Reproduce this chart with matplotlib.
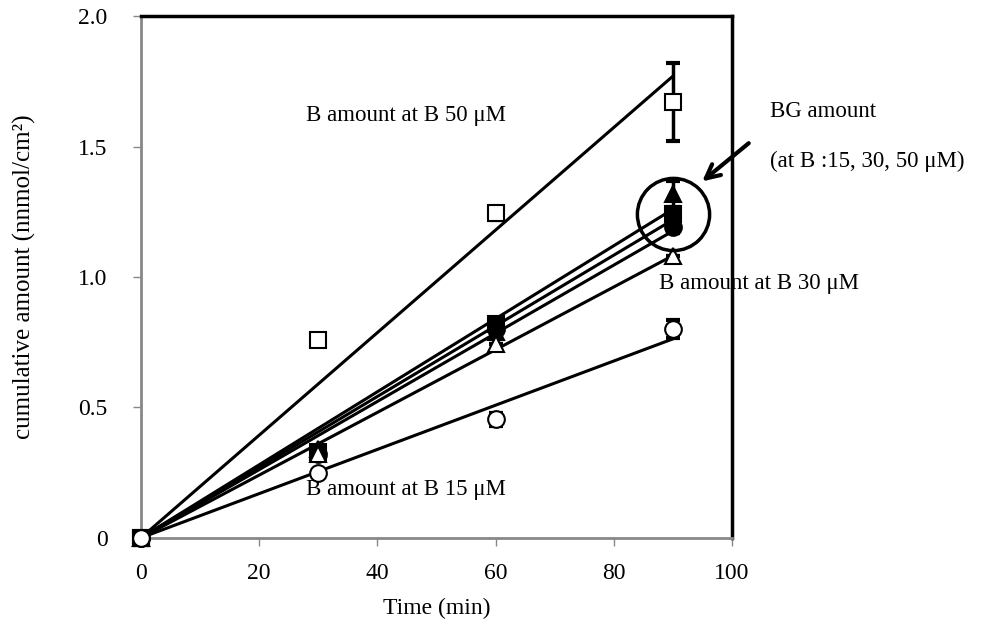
import numpy as np
import matplotlib
matplotlib.use("Agg")
import matplotlib.pyplot as plt

plt.rcParams['font.family'] = ['Liberation Serif', 'DejaVu Serif']

# sampling times (min)
time = [0, 30, 60, 90]

# B amount (open symbols)
b15 = [0, 0.25, 0.455, 0.80]
b15_err = [0, 0.0, 0.025, 0.035]
b30 = [0, 0.32, 0.745, 1.08]
b30_err = [0, 0.0, 0.0, 0.0]
b50 = [0, 0.76, 1.245, 1.67]
b50_err = [0, 0.0, 0.025, 0.15]

# BG amount (filled symbols)
bg15 = [0, 0.32, 0.80, 1.19]
bg15_err = [0, 0.0, 0.0, 0.02]
bg30 = [0, 0.33, 0.82, 1.24]
bg30_err = [0, 0.0, 0.0, 0.02]
bg50 = [0, 0.34, 0.79, 1.32]
bg50_err = [0, 0.0, 0.0, 0.05]

# drawing order (bottom to top)
series = [
    (b50, b50_err, 's', 'white'),
    (bg15, bg15_err, 'o', 'black'),
    (bg30, bg30_err, 's', 'black'),
    (bg50, bg50_err, '^', 'black'),
    (b30, b30_err, '^', 'white'),
    (b15, b15_err, 'o', 'white'),
]

fig = plt.figure(figsize=(10.06, 6.24), dpi=100)
ax = fig.add_axes([0.140, 0.138, 0.5876, 0.836])

t = np.array(time, dtype=float)
tfit = np.array([0, 90.0])
# linear trend lines forced through origin
for vals, err, mk, fc in series:
    v = np.array(vals)
    slope = (t * v).sum() / (t * t).sum()
    ax.plot(tfit, slope * tfit, color='black', lw=2.2, zorder=2)

for i, (vals, err, mk, fc) in enumerate(series):
    ax.errorbar(time, vals, yerr=err, fmt='none', ecolor='black',
                elinewidth=2.5, capsize=5, capthick=3, zorder=3 + i * 0.1,
                clip_on=False)
    ax.plot(time, vals, linestyle='none', marker=mk, ms=12, mfc=fc,
            mec='black', mew=1.5, zorder=3.05 + i * 0.1, clip_on=False)

# highlight circle around BG points at 90 min
ax.plot([90], [1.24], marker='o', ms=52, mfc='none', mec='black',
        mew=2.5, zorder=5, clip_on=False)
ax.annotate('', xy=(94.6, 1.36), xytext=(103.2, 1.52),
            arrowprops=dict(arrowstyle='->', lw=3, color='black',
                            mutation_scale=25),
            annotation_clip=False, zorder=6)

fs = 16.5
ax.text(28, 1.62, 'B amount at B 50 μM', fontsize=fs, va='center')
ax.text(28, 0.185, 'B amount at B 15 μM', fontsize=fs, va='center')
ax.text(87.7, 0.975, 'B amount at B 30 μM', fontsize=fs, va='center',
        clip_on=False)
ax.text(106.5, 1.635, 'BG amount', fontsize=fs, va='center', clip_on=False)
ax.text(106.5, 1.445, '(at B :15, 30, 50 μM)', fontsize=fs,
        va='center', clip_on=False)

ax.set_xlim(0, 100)
ax.set_ylim(0, 2.0)
ax.set_xticks([0, 20, 40, 60, 80, 100])
ax.set_yticks([0, 0.5, 1.0, 1.5, 2.0])
ax.set_yticklabels(['0', '0.5', '1.0', '1.5', '2.0'])
ax.tick_params(labelsize=17, direction='out', length=6, width=1,
               color='#888888')
ax.tick_params(axis='y', pad=18)
ax.tick_params(axis='x', pad=12)

for s in ['top', 'right']:
    ax.spines[s].set_linewidth(2.5)
    ax.spines[s].set_color('black')
for s in ['left', 'bottom']:
    ax.spines[s].set_linewidth(2)
    ax.spines[s].set_color('#888888')

ax.set_xlabel('Time (min)', fontsize=17, labelpad=10)
ax.set_ylabel('cumulative amount (nnmol/cm²)', fontsize=18, labelpad=30)

fig.savefig('out.png', dpi=100)
